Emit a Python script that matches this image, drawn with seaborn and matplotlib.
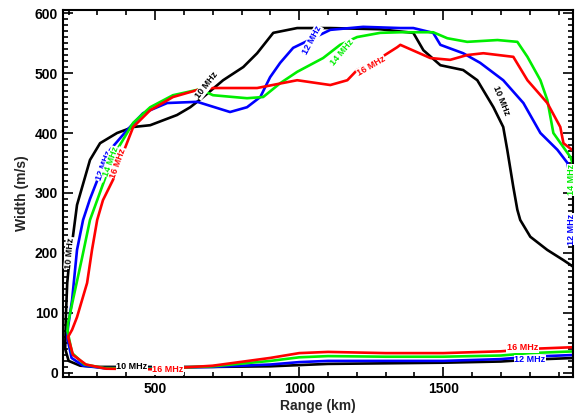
import matplotlib
matplotlib.use("Agg")

import matplotlib.pyplot as plt
import pandas as pd
import seaborn as sns
from matplotlib.ticker import MultipleLocator

# --- DATA ---

freqs = ["10 MHz", "12 MHz", "14 MHz", "16 MHz"]
colors = ["black", "#0000ff", "#00ee00", "#ff0000"]

# upper branches, starting at the left tip of each contour
up10_x = [188, 190, 195, 203, 212, 229, 274, 309, 368, 424, 483, 576, 622, 667, 736, 806, 854, 910, 993, 1108, 1281,
          1396, 1431, 1490, 1569, 1618, 1674, 1708, 1722, 1743, 1757, 1767, 1802, 1861, 1917, 1951]
up10_y = [40, 90, 150, 190, 217, 280, 355, 383, 400, 410, 413, 430, 443, 460, 488, 510, 533, 567, 575, 575, 573,
          567, 538, 513, 505, 488, 443, 410, 372, 310, 272, 255, 227, 205, 188, 177]

up12_x = [195, 198, 212, 229, 250, 274, 309, 344, 403, 458, 542, 646, 760, 819, 865, 899, 934, 979, 1108, 1222, 1351,
          1396, 1465, 1490, 1569, 1628, 1708, 1778, 1837, 1896, 1931, 1948, 1960]
up12_y = [60, 77, 122, 205, 255, 290, 333, 372, 405, 433, 450, 452, 435, 443, 460, 493, 517, 542, 572, 577, 575,
          575, 567, 547, 533, 517, 488, 450, 400, 372, 350, 300, 285]

up14_x = [196, 198, 215, 247, 274, 299, 333, 368, 424, 483, 562, 656, 701, 819, 875, 934, 993, 1083, 1142, 1201, 1281,
          1351, 1465, 1514, 1583, 1688, 1757, 1792, 1837, 1861, 1882, 1941, 1960]
up14_y = [70, 83, 122, 193, 255, 288, 333, 372, 417, 443, 463, 473, 463, 458, 460, 483, 502, 525, 547, 560, 567,
          568, 568, 558, 552, 555, 552, 527, 488, 455, 400, 360, 335]

up16_x = [198, 212, 229, 264, 281, 299, 319, 354, 389, 424, 483, 562, 656, 701, 854, 993, 1108, 1167, 1201, 1281,
          1340, 1351, 1455, 1524, 1583, 1639, 1743, 1792, 1861, 1906, 1917, 1960]
up16_y = [60, 72, 93, 150, 205, 255, 288, 322, 367, 410, 438, 460, 473, 475, 475, 488, 480, 488, 505, 525,
          543, 547, 525, 522, 530, 533, 527, 488, 450, 410, 383, 367]

# lower branches, also starting at the left tip
lo10_x = [188, 200, 240, 300, 500, 700, 900, 1000, 1100, 1300, 1500, 1700, 1800, 1960]
lo10_y = [40, 20, 12, 10, 10, 10, 11, 13, 15, 16, 17, 19, 22, 25]
lo12_x = [195, 210, 250, 320, 500, 700, 900, 1000, 1100, 1300, 1500, 1700, 1800, 1960]
lo12_y = [60, 25, 12, 8, 8, 10, 14, 18, 20, 20, 20, 23, 27, 30]
lo14_x = [196, 212, 255, 325, 500, 700, 900, 1000, 1100, 1300, 1500, 1700, 1800, 1960]
lo14_y = [70, 33, 14, 8, 7, 11, 20, 26, 28, 27, 27, 29, 33, 36]
lo16_x = [198, 215, 260, 330, 500, 700, 900, 1000, 1100, 1300, 1500, 1700, 1800, 1960]
lo16_y = [60, 30, 14, 7, 6, 12, 25, 33, 35, 33, 33, 36, 40, 43]

upper = {"10 MHz": (up10_x, up10_y), "12 MHz": (up12_x, up12_y),
         "14 MHz": (up14_x, up14_y), "16 MHz": (up16_x, up16_y)}
lower = {"10 MHz": (lo10_x, lo10_y), "12 MHz": (lo12_x, lo12_y),
         "14 MHz": (lo14_x, lo14_y), "16 MHz": (lo16_x, lo16_y)}

# contour labels: (freq, x, y, rotation)
labels = [
    ("10 MHz", 680, 480, 52), ("10 MHz", 1700, 455, -68), ("10 MHz", 203, 200, 85),
    ("12 MHz", 1045, 555, 62), ("14 MHz", 1150, 535, 50), ("16 MHz", 1250, 512, 30),
    ("12 MHz", 322, 345, 70), ("14 MHz", 346, 352, 70), ("16 MHz", 372, 350, 70),
    ("10 MHz", 420, 11, 0), ("16 MHz", 545, 5, 0),
    ("16 MHz", 1775, 42, 0), ("12 MHz", 1800, 22, 0),
    ("12 MHz", 1945, 240, 90), ("14 MHz", 1945, 322, 90),
]

rows = []
for f in freqs:
    for branch, src in (("upper", upper), ("lower", lower)):
        xs, ys = src[f]
        for x, y in zip(xs, ys):
            rows.append({"freq": f, "branch": branch, "range": x, "width": y})
df = pd.DataFrame(rows)

# --- PLOT ---

sns.set_style("ticks")
plt.rcParams["font.family"] = ["Liberation Sans", "DejaVu Sans"]
plt.rcParams["font.weight"] = "bold"

fig = plt.figure(figsize=(5.77, 4.19), dpi=100)
ax = fig.add_axes([0.109, 0.100, 0.884, 0.876])

cmap = dict(zip(freqs, colors))
sns.lineplot(data=df, x="range", y="width", hue="freq", units="branch",
             estimator=None, sort=False, palette=cmap,
             linewidth=1.9, legend=False, ax=ax)

for f, x, y, rot in labels:
    ax.text(x, y, f, color=cmap[f], fontsize=6.5, fontweight="bold", rotation=rot,
            ha="center", va="center", rotation_mode="anchor",
            bbox=dict(facecolor="white", edgecolor="none", pad=0.3))

ax.set_xlim(180, 1950)
ax.set_ylim(-7, 605)
ax.xaxis.set_major_locator(MultipleLocator(500))
ax.xaxis.set_minor_locator(MultipleLocator(100))
ax.yaxis.set_major_locator(MultipleLocator(100))
ax.yaxis.set_minor_locator(MultipleLocator(10))
ax.tick_params(which="both", direction="in", top=True, right=True, width=1.2, colors="black")
ax.tick_params(which="major", length=7, labelsize=10)
ax.tick_params(which="minor", length=3.5)
for lab in ax.get_xticklabels() + ax.get_yticklabels():
    lab.set_fontweight("bold")
for s in ax.spines.values():
    s.set_linewidth(1.5)
    s.set_color("black")

ax.set_xlabel("Range (km)", fontsize=10, fontweight="bold", labelpad=2)
ax.set_ylabel("Width (m/s)", fontsize=10, fontweight="bold", labelpad=4)

plt.savefig("out.png", dpi=100)
